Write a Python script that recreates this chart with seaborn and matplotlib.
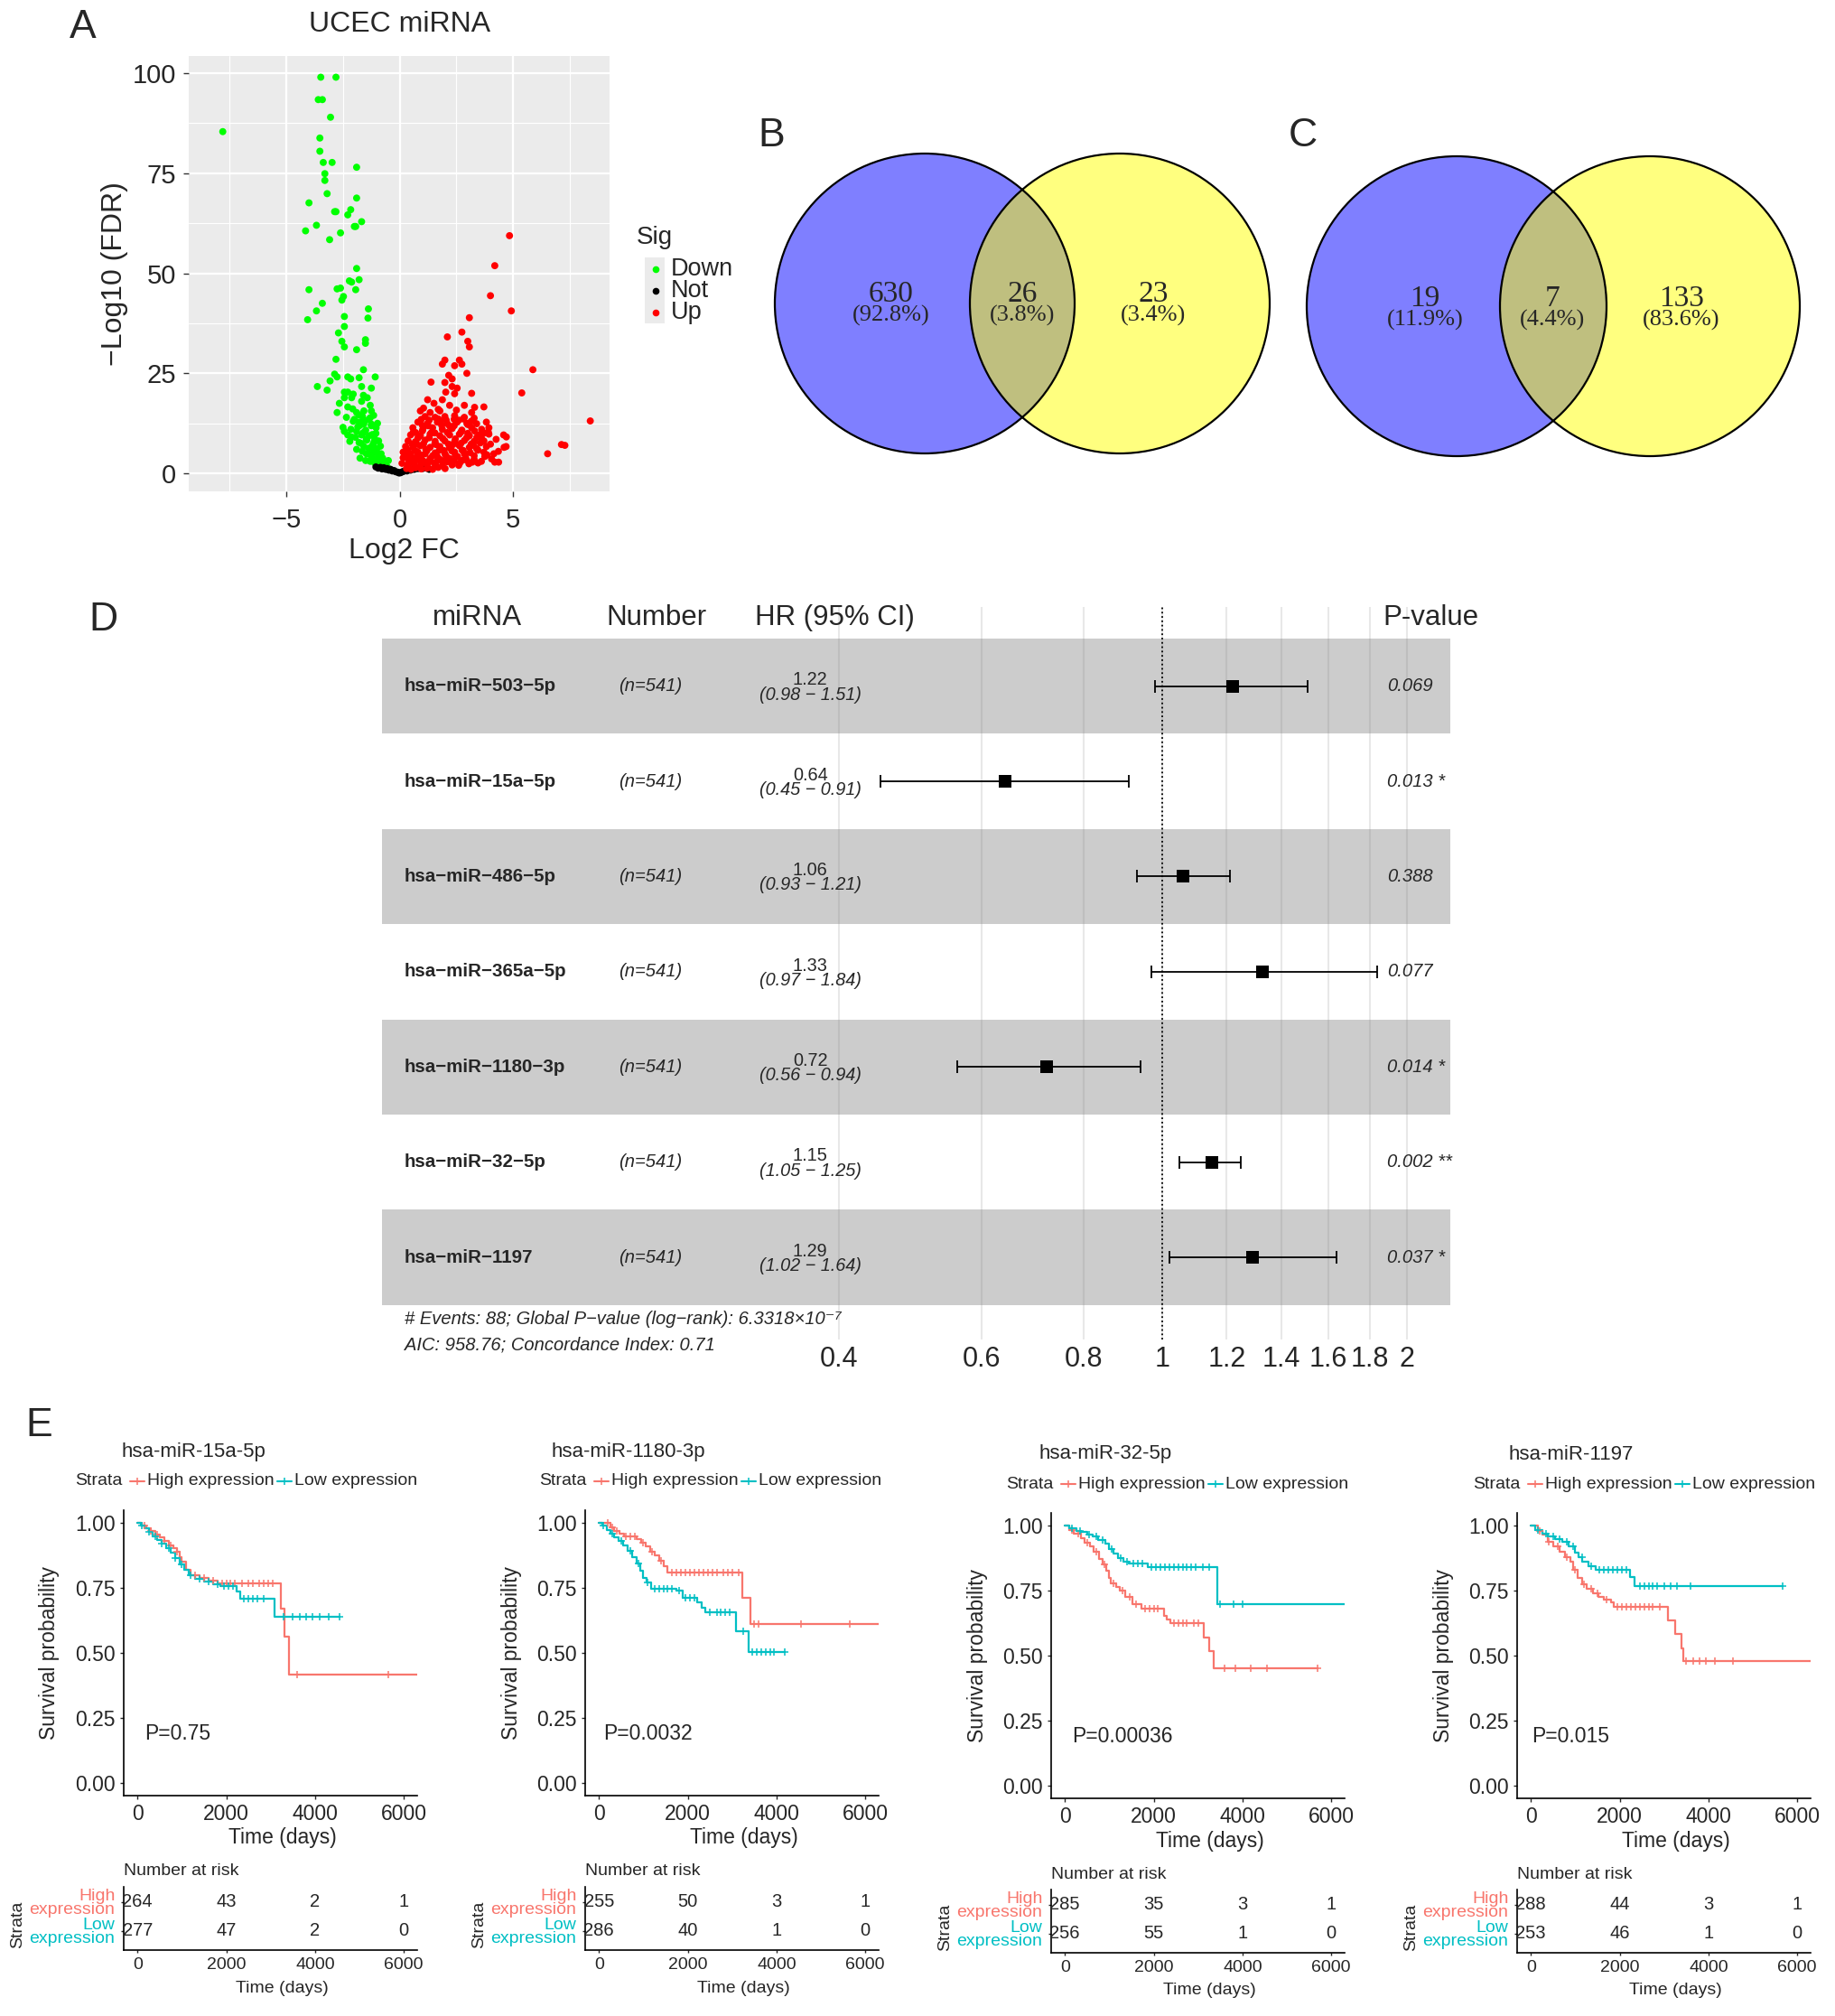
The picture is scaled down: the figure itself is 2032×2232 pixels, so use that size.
import numpy as np
import pandas as pd
import seaborn as sns
import matplotlib.pyplot as plt
from matplotlib.patches import Circle, Rectangle
from matplotlib.lines import Line2D

sns.set_style('white')
plt.rcParams['font.family'] = ['Liberation Sans', 'DejaVu Sans']

W, H, DPI = 2032, 2232, 100

# ---------------- Panel A: volcano data (log2 FC, -log10 FDR) ----------------
down_fc = [-7.8, -3.48, -2.81, -3.59, -3.41, -3.05, -3.52, -3.52, -3.37, -2.98,
           -1.90, -3.30, -3.30, -3.20, -1.90, -4.00, -2.87, -2.81, -2.16, -2.29,
           -1.68, -3.67, -2.00, -1.94, -4.15, -2.61, -3.09, -1.90, -1.79, -2.22,
           -2.12, -2.76, -2.61, -4.00, -1.94, -2.48, -2.55, -3.41, -3.67, -1.38,
           -4.06, -1.40, -2.44, -2.44, -2.70, -1.51, -1.51, -2.55, -2.44, -1.90,
           -2.81, -1.60, -2.87, -2.76, -2.29, -2.16, -1.79, -1.08, -3.07, -3.63,
           -3.20, -2.44, -2.29, -1.68, -1.25, -2.44, -2.12, -2.66, -1.68, -1.43,
           -2.29, -2.07, -1.90, -1.58, -1.25, -2.76, -1.64, -1.36, -1.79, -1.58,
           -1.25, -1.04, -2.44, -2.29, -2.12, -1.90, -1.68, -1.47, -1.21, -1.79,
           -1.58, -1.36, -1.14, -0.93, -1.47, -1.25, -1.04, -0.82, -1.14, -0.93,
           -0.71, -0.50, -0.60, -0.82,
           -2.00, -1.75, -1.50, -1.25, -2.20, -1.95, -1.70, -1.45, -1.20, -1.00,
           -1.90, -1.65, -1.40, -1.15, -0.95, -0.75, -1.30, -1.10, -0.90, -0.70, -0.55,
           -2.35, -2.05, -1.80, -1.55, -1.30, -1.05,
           -2.50, -2.15, -1.85, -1.60, -1.35, -1.10, -0.85,
           -1.75, -1.50, -1.25, -1.00, -0.80, -0.65,
           -2.05, -1.60, -1.30, -1.15, -0.98]
down_fdr = [85.4, 99.0, 99.0, 93.4, 93.4, 89.0, 83.8, 80.5, 77.7, 77.7,
            76.5, 74.9, 73.2, 69.9, 68.8, 67.6, 65.4, 65.4, 65.9, 64.6,
            62.9, 62.0, 61.7, 61.7, 60.6, 60.1, 58.4, 51.2, 48.4, 48.1,
            47.8, 46.1, 46.3, 45.9, 45.9, 44.2, 43.3, 42.5, 40.6, 41.1,
            38.4, 38.8, 39.2, 36.7, 35.1, 33.4, 32.5, 33.0, 31.6, 30.9,
            28.5, 25.9, 24.8, 24.1, 24.1, 23.6, 23.9, 24.1, 23.1, 21.7,
            20.8, 20.3, 20.3, 21.7, 21.3, 18.9, 18.9, 17.5, 18.0, 18.9,
            16.6, 16.1, 15.2, 15.6, 15.6, 15.2, 14.2, 13.5, 12.8, 12.4,
            11.9, 11.4, 10.5, 9.6, 9.1, 10.5, 9.6, 8.6, 9.7, 7.7,
            6.7, 6.3, 7.7, 8.1, 4.9, 4.4, 5.3, 4.9, 3.5, 3.0,
            2.5, 3.2, 2.1, 2.2,
            13.5, 12.0, 10.8, 12.3, 8.0, 9.0, 7.5, 8.3, 7.0, 6.2,
            6.0, 5.5, 5.0, 5.8, 4.2, 3.8, 3.0, 2.6, 2.2, 1.8, 1.6,
            14.0, 13.0, 14.6, 13.2, 13.9, 10.0,
            11.5, 11.0, 11.6, 10.2, 9.4, 8.6, 6.8,
            3.8, 3.2, 4.1, 3.4, 2.9, 2.3,
            19.8, 19.5, 17.0, 14.5, 12.5]

not_fc = [-1.05, -0.95, -0.85, -0.78, -0.70, -0.62, -0.55, -0.48, -0.40, -0.33,
          -0.25, -0.18, -0.10, -0.03, 0.03, 0.10, 0.17, 0.25, 0.32, 0.40,
          0.48, 0.56, 0.64, 0.72, 0.80, 0.90, 1.00, 1.10, 1.20, 1.30]
not_fdr = [1.6, 1.3, 1.5, 1.1, 1.4, 1.0, 1.2, 0.8, 1.0, 0.6,
           0.7, 0.4, 0.3, 0.1, 0.15, 0.35, 0.5, 0.7, 0.6, 0.9,
           0.8, 1.1, 1.0, 1.3, 1.2, 1.4, 1.2, 1.5, 1.3, 1.0]

up_fc = [4.84, 4.19, 4.00, 4.92, 3.07, 2.74, 2.10, 3.00, 3.07, 5.87,
         1.99, 2.63, 2.74, 1.88, 2.42, 2.16, 2.31, 2.96, 1.38, 1.99,
         2.31, 2.53, 5.38, 2.03, 2.42, 3.17, 1.23, 1.88, 3.71, 1.51,
         2.20, 2.85, 0.91, 1.34, 1.77, 3.17, 3.28, 8.40, 7.13, 7.28,
         6.52, 4.19, 4.36, 4.70, 4.60, 3.90,
         1.12, 1.56, 1.99, 2.42, 2.85,
         0.80, 1.23, 1.66, 2.10, 2.53, 2.96, 3.39, 3.82,
         0.58, 1.02, 1.45, 1.88, 2.31, 2.74, 3.17, 3.61, 3.93,
         0.48, 0.91, 1.34, 1.77, 2.20, 2.63, 3.07, 3.50, 3.93, 4.58,
         0.37, 0.69, 1.12, 1.56, 1.99, 2.42, 2.85, 3.28, 3.71, 4.25,
         0.26, 0.58, 0.91, 1.34, 1.77, 2.20, 2.63, 3.07, 3.39, 3.82, 4.69,
         0.15, 0.48, 0.80, 1.12, 1.56, 1.99, 2.42, 2.85, 3.28, 3.71, 4.15,
         0.15, 0.43, 0.69, 1.02, 1.34, 1.77, 2.20, 2.74, 3.28,
         0.10, 0.37, 0.65, 0.91, 1.23, 1.56, 1.88, 2.31,
         0.60, 1.00, 1.40, 1.80, 2.20, 2.60, 3.00, 3.40,
         0.35, 0.75, 1.15, 1.55, 1.95, 2.35, 2.75, 3.15, 3.55,
         0.25, 0.55, 0.85, 1.25, 1.65, 2.05, 2.45, 2.90, 3.60,
         1.05, 1.70, 2.50, 3.30,
         0.30, 0.50, 0.70, 0.95, 1.20, 1.45, 1.70, 2.00, 2.60, 3.05,
         0.40, 0.62, 0.85, 1.10, 1.35, 1.60, 1.85, 2.10, 2.40, 2.65, 2.95, 3.20, 3.45, 3.75, 4.05,
         0.45, 0.70, 0.95, 1.20, 1.45, 1.75, 2.05, 2.30, 2.55, 2.80, 3.10, 3.45, 3.85, 4.35,
         0.55, 0.80, 1.05, 1.30, 1.60, 1.90, 2.15, 2.45, 2.70, 2.95, 3.25, 3.60, 4.00,
         0.70, 1.00, 1.25, 1.55, 1.85, 2.10, 2.40, 2.70, 3.00, 3.30, 3.70,
         0.95, 1.30, 1.70, 2.05, 2.40, 2.80, 3.15]
up_fdr = [59.4, 51.9, 44.4, 40.6, 38.9, 35.3, 34.1, 33.0, 31.6, 25.9,
          28.3, 28.3, 27.3, 27.3, 26.9, 24.5, 23.6, 25.0, 22.8, 22.7,
          21.7, 21.3, 20.1, 20.3, 19.9, 20.0, 18.4, 18.4, 16.6, 17.5,
          17.0, 17.0, 15.6, 15.2, 15.6, 15.2, 13.8, 13.1, 7.2, 7.0,
          4.9, 2.8, 2.8, 9.1, 6.5, 10.4,
          14.2, 14.0, 14.2, 14.4, 14.0,
          12.8, 12.5, 12.8, 12.4, 12.8, 12.5, 12.4, 12.8,
          11.4, 11.0, 11.4, 11.0, 11.2, 10.8, 11.4, 11.0, 11.4,
          9.6, 9.4, 9.8, 9.4, 9.6, 9.8, 9.4, 9.6, 9.8, 9.6,
          8.1, 7.9, 8.3, 8.0, 8.1, 7.9, 8.2, 8.0, 8.1, 8.5,
          6.7, 6.5, 6.9, 6.5, 6.7, 6.4, 6.9, 6.5, 6.2, 6.7, 6.7,
          5.3, 4.9, 5.3, 4.9, 5.1, 4.9, 5.3, 4.9, 4.4, 5.3, 4.9,
          3.9, 3.5, 3.9, 3.2, 3.7, 3.5, 3.7, 3.2, 3.5,
          2.5, 2.1, 2.2, 1.9, 2.1, 2.2, 1.9, 2.1,
          10.3, 12.0, 10.2, 13.0, 11.8, 13.3, 10.0, 9.0,
          5.8, 7.3, 6.0, 7.4, 5.7, 7.2, 5.8, 7.3, 7.6,
          4.2, 3.0, 4.4, 2.9, 4.3, 3.0, 4.5, 4.0, 3.0,
          16.3, 16.0, 15.8, 16.5,
          1.2, 1.0, 1.4, 1.1, 1.3, 1.0, 1.5, 1.2, 2.0, 2.4,
          3.1, 2.8, 3.3, 2.7, 3.0, 2.8, 3.2, 2.9, 3.1, 2.6, 3.3, 2.8, 2.6, 4.2, 3.6,
          4.6, 5.6, 4.5, 5.7, 4.4, 5.8, 4.3, 5.6, 4.2, 5.7, 5.2, 5.8, 4.6, 5.5,
          7.3, 8.8, 7.4, 8.9, 7.2, 8.7, 7.3, 8.6, 7.5, 8.9, 7.0, 8.8, 7.3,
          10.2, 10.6, 11.9, 10.1, 12.0, 10.2, 11.9, 10.3, 12.2, 10.6, 10.0,
          13.5, 13.3, 13.6, 13.3, 13.5, 13.6, 13.0]

sig_order = ['Down', 'Not', 'Up']
sig_colors = {'Down': '#00FF00', 'Not': '#000000', 'Up': '#FF0000'}

# ---------------- Panels B, C: Venn counts ----------------
venn_b_counts = [630, 26, 23]
venn_c_counts = [19, 7, 133]

# ---------------- Panel D: Cox forest data ----------------
mirnas = ['hsa-miR-503-5p', 'hsa-miR-15a-5p', 'hsa-miR-486-5p', 'hsa-miR-365a-5p',
          'hsa-miR-1180-3p', 'hsa-miR-32-5p', 'hsa-miR-1197']
hr = [1.22, 0.64, 1.06, 1.33, 0.72, 1.15, 1.29]
hr_lo = [0.98, 0.45, 0.93, 0.97, 0.56, 1.05, 1.02]
hr_hi = [1.51, 0.91, 1.21, 1.84, 0.94, 1.25, 1.64]
pvals = [0.069, 0.013, 0.388, 0.077, 0.014, 0.002, 0.037]
n_patients = 541
n_events = 88
global_p = '6.3318×10⁻⁷'
aic = 958.76
c_index = 0.71
hr_ticks = [0.4, 0.6, 0.8, 1, 1.2, 1.4, 1.6, 1.8, 2]

# ---------------- Panel E: Kaplan-Meier data ----------------
km_titles = ['hsa-miR-15a-5p', 'hsa-miR-1180-3p', 'hsa-miR-32-5p', 'hsa-miR-1197']
km_pvals = ['P=0.75', 'P=0.0032', 'P=0.00036', 'P=0.015']

high_t = [
    [0, 100, 200, 300, 400, 500, 600, 700, 800, 900, 950, 1000, 1100, 1200, 1400, 1600, 1800, 3220, 3320, 3410],
    [0, 260, 350, 460, 560, 850, 950, 1050, 1150, 1250, 1350, 1450, 1540, 3230, 3420],
    [0, 100, 200, 355, 450, 560, 650, 765, 850, 935, 1000, 1038, 1150, 1242, 1350, 1515, 1720, 2232, 2300, 2369, 3120, 3256, 3358],
    [0, 150, 250, 373, 500, 644, 760, 881, 960, 1051, 1150, 1254, 1400, 1525, 1650, 1796, 1864, 3085, 3254, 3390, 3424],
]
high_s = [
    [1, 0.99, 0.98, 0.97, 0.955, 0.945, 0.93, 0.915, 0.905, 0.89, 0.87, 0.85, 0.82, 0.80, 0.79, 0.78, 0.767, 0.672, 0.563, 0.418],
    [1, 0.985, 0.97, 0.96, 0.95, 0.94, 0.925, 0.91, 0.89, 0.875, 0.855, 0.835, 0.811, 0.713, 0.611],
    [1, 0.985, 0.97, 0.953, 0.935, 0.92, 0.90, 0.873, 0.85, 0.827, 0.80, 0.78, 0.765, 0.751, 0.725, 0.70, 0.682, 0.652, 0.64, 0.627, 0.569, 0.519, 0.452],
    [1, 0.98, 0.965, 0.94, 0.92, 0.90, 0.88, 0.862, 0.83, 0.80, 0.775, 0.757, 0.74, 0.728, 0.715, 0.705, 0.688, 0.635, 0.583, 0.527, 0.478],
]
high_end = [6300, 6300, 5680, 6300]
high_cens = [
    [150, 300, 450, 600, 750, 900, 1300, 1500, 1700, 1900, 2000, 2100, 2200, 2350, 2500, 2600, 2750, 2850, 2950, 3050, 3590, 5640],
    [200, 300, 400, 600, 700, 800, 1000, 1200, 1400, 1650, 1750, 1850, 1950, 2050, 2150, 2250, 2350, 2450, 2550, 2650, 2800, 2900, 3000, 3150, 3500, 3600, 4550, 5650],
    [150, 300, 500, 700, 900, 1100, 1300, 1450, 1600, 1800, 1900, 2000, 2100, 2450, 2550, 2650, 2750, 2900, 3000, 3597, 3836, 4177, 4553, 5680],
    [200, 400, 600, 800, 1000, 1200, 1350, 1500, 1700, 1950, 2050, 2150, 2250, 2350, 2450, 2550, 2650, 2750, 2900, 3500, 3650, 3800, 3950, 4150, 4550],
]

low_t = [
    [0, 80, 160, 250, 350, 450, 550, 650, 750, 850, 950, 1050, 1150, 1300, 1500, 1700, 1870, 2236, 2304, 3083],
    [0, 80, 170, 260, 350, 450, 550, 650, 750, 850, 930, 1000, 1070, 1170, 1750, 1880, 2220, 2320, 2390, 3095, 3365],
    [0, 100, 250, 355, 500, 628, 750, 901, 1000, 1100, 1200, 1311, 1447, 1857, 3427],
    [0, 100, 250, 373, 550, 712, 850, 983, 1080, 1152, 1300, 1458, 2237, 2339],
]
low_s = [
    [1, 0.99, 0.98, 0.965, 0.95, 0.935, 0.92, 0.905, 0.885, 0.865, 0.84, 0.82, 0.80, 0.785, 0.775, 0.765, 0.757, 0.738, 0.71, 0.638],
    [1, 0.99, 0.975, 0.96, 0.945, 0.93, 0.915, 0.895, 0.87, 0.845, 0.817, 0.79, 0.771, 0.748, 0.74, 0.713, 0.695, 0.675, 0.655, 0.582, 0.502],
    [1, 0.99, 0.98, 0.976, 0.968, 0.96, 0.945, 0.93, 0.91, 0.895, 0.875, 0.862, 0.856, 0.841, 0.70],
    [1, 0.985, 0.97, 0.96, 0.95, 0.937, 0.92, 0.897, 0.88, 0.862, 0.845, 0.83, 0.804, 0.769],
]
low_end = [4560, 4180, 6300, 5661]
low_cens = [
    [100, 250, 400, 550, 700, 850, 1000, 1200, 1400, 1600, 1800, 1950, 2050, 2150, 2400, 2500, 2600, 2700, 2850, 3300, 3500, 3650, 3800, 3950, 4100, 4300, 4560],
    [100, 300, 500, 700, 900, 1100, 1250, 1350, 1450, 1550, 1650, 1800, 1950, 2050, 2150, 2500, 2650, 2750, 2850, 2950, 3250, 3450, 3550, 3650, 3750, 3850, 3950, 4180],
    [150, 350, 550, 700, 850, 1050, 1250, 1400, 1550, 1650, 1750, 1950, 2050, 2150, 2250, 2350, 2450, 2550, 2650, 2750, 2850, 2950, 3100, 3250, 3500, 3800, 4000],
    [150, 350, 500, 650, 800, 950, 1150, 1350, 1550, 1650, 1750, 1850, 1950, 2050, 2150, 2450, 2550, 2650, 2750, 2850, 3000, 3150, 3300, 3600, 5661],
]

risk_times = [0, 2000, 4000, 6000]
risk_high = [[264, 43, 2, 1], [255, 50, 3, 1], [285, 35, 3, 1], [288, 44, 3, 1]]
risk_low = [[277, 47, 2, 0], [286, 40, 1, 0], [256, 55, 1, 0], [253, 46, 1, 0]]

RED, TEAL = '#F8766D', '#00BFC4'


def px_axes(x0, y0, x1, y1):
    return fig.add_axes([x0 / W, 1 - y1 / H, (x1 - x0) / W, (y1 - y0) / H])


def step_xy(t, s, t_end):
    return list(t) + [t_end], list(s) + [s[-1]]


def surv_at(t, s, times):
    idx = np.searchsorted(np.asarray(t), np.asarray(times), side='right') - 1
    return np.asarray(s)[idx]


fig = plt.figure(figsize=(W / DPI, H / DPI), dpi=DPI)
ov = fig.add_axes([0, 0, 1, 1])
ov.set_xlim(0, W)
ov.set_ylim(H, 0)
ov.axis('off')

# panel letters
for lab, (lx, ly) in {'A': (92, 31), 'B': (854, 150), 'C': (1443, 150),
                      'D': (114, 687), 'E': (43, 1578)}.items():
    ov.text(lx, ly, lab, fontsize=32, ha='center', va='center')

# ---------------- A: volcano ----------------
vdf = pd.DataFrame({
    'fc': down_fc + not_fc + up_fc,
    'fdr': down_fdr + not_fdr + up_fdr,
    'sig': ['Down'] * len(down_fc) + ['Not'] * len(not_fc) + ['Up'] * len(up_fc),
})
ax = px_axes(209, 62, 675, 544)
ax.set_facecolor('#EBEBEB')
sns.scatterplot(data=vdf, x='fc', y='fdr', hue='sig', hue_order=sig_order,
                palette=sig_colors, s=32, linewidth=0, legend=False, ax=ax, zorder=3)
ax.set_xlim(-9.3, 9.25)
ax.set_ylim(-4.5, 104.3)
ax.set_xticks([-5, 0, 5])
ax.set_yticks([0, 25, 50, 75, 100])
ax.set_xticks([-7.5, -2.5, 2.5, 7.5], minor=True)
ax.set_yticks([12.5, 37.5, 62.5, 87.5], minor=True)
ax.set_axisbelow(True)
ax.grid(which='major', color='white', lw=1.6)
ax.grid(which='minor', color='white', lw=0.8)
for sp in ax.spines.values():
    sp.set_visible(False)
ax.tick_params(which='major', bottom=True, left=True, length=4, width=1,
               color='#333333', labelsize=21)
ax.tick_params(axis='x', pad=9)
ax.tick_params(axis='y', pad=6)
ax.tick_params(which='minor', length=0)
ax.set_xlabel('')
ax.set_ylabel('')
ov.text(443, 27, 'UCEC miRNA', fontsize=23, ha='center', va='center')
ov.text(447, 610, 'Log2 FC', fontsize=23, ha='center', va='center')
ov.text(127, 303, '−Log10 (FDR)', fontsize=23, ha='center', va='center', rotation=90)
# legend
ov.text(705, 263, 'Sig', fontsize=20, ha='left', va='center')
ov.add_patch(Rectangle((714, 285), 22, 73, color='#EBEBEB', lw=0))
for ky, lab in zip([298, 322, 346], sig_order):
    ov.scatter([726], [ky], s=30, color=sig_colors[lab], linewidth=0, zorder=3)
    ov.text(743, ky, lab, fontsize=19.5, ha='left', va='center')

# ---------------- B, C: Venn diagrams ----------------
def draw_venn(cx1, cx2, cy, r, counts, text_x, ty):
    total = sum(counts)
    ov.add_patch(Circle((cx1, cy), r, facecolor=(0, 0, 1, 0.5), edgecolor='none'))
    ov.add_patch(Circle((cx2, cy), r, facecolor=(1, 1, 0, 0.5), edgecolor='none'))
    for cx in (cx1, cx2):
        ov.add_patch(Circle((cx, cy), r, facecolor='none', edgecolor='black', lw=1.6))
    for c, tx in zip(counts, text_x):
        ov.text(tx, ty, str(c), fontsize=24, family='Liberation Serif',
                ha='center', va='center')
        ov.text(tx, ty + 23, f'({100 * c / total:.1f}%)', fontsize=19,
                family='Liberation Serif', ha='center', va='center')


draw_venn(1024, 1240, 336, 166, venn_b_counts, [987, 1132, 1277], 326)
draw_venn(1613, 1827, 339, 166, venn_c_counts, [1578, 1719, 1862], 331)

# ---------------- D: forest plot ----------------
rows = np.arange(len(mirnas))
axf = px_axes(423, 672, 1606, 1483)
axf.set_xlim(-2.21, 0.816)
axf.set_ylim(6.863, -0.832)
for i in rows[::2]:
    axf.axhspan(i - 0.5, i + 0.5, color='#CCCCCC', lw=0, zorder=0.5)
axf.set_xticks(np.log(hr_ticks))
axf.set_xticklabels([f'{v:g}' for v in hr_ticks])
axf.set_axisbelow('line')
axf.grid(axis='x', color='#808080', alpha=0.18, lw=1.5)
axf.set_yticks([])
for sp in axf.spines.values():
    sp.set_visible(False)
axf.tick_params(axis='x', bottom=False, length=0, labelsize=22, pad=5)
axf.axvline(0, ls=':', color='black', lw=1.3, zorder=2)
lhr, llo, lhi = np.log(hr), np.log(hr_lo), np.log(hr_hi)
axf.errorbar(lhr, rows, xerr=[lhr - llo, lhi - lhr], fmt='none', ecolor='black',
             elinewidth=1.3, capsize=5, capthick=1.3, zorder=3)
sns.scatterplot(x=lhr, y=rows, marker='s', s=90, color='black', linewidth=0,
                ax=axf, zorder=4)
axf.set_xlabel('')
axf.set_ylabel('')
for hx, lab in zip([-1.939, -1.432, -0.928, 0.762], ['miRNA', 'Number', 'HR (95% CI)', 'P-value']):
    axf.text(hx, -0.718, lab, fontsize=22.5, ha='center', va='center')
for i in rows:
    axf.text(-2.146, i, mirnas[i].replace('-', '−'), fontsize=14.8, fontweight='bold',
             ha='left', va='center')
    axf.text(-1.45, i, f'(n={n_patients})', fontsize=14.5, style='italic',
             ha='center', va='center')
    axf.text(-0.997, i - 0.065, f'{hr[i]:.2f}', fontsize=14.3, ha='center', va='center')
    axf.text(-0.997, i + 0.09, f'({hr_lo[i]:.2f} − {hr_hi[i]:.2f})', fontsize=14.3,
             style='italic', ha='center', va='center')
    stars = '**' if pvals[i] < 0.01 else ('*' if pvals[i] < 0.05 else '')
    axf.text(0.637, i, f'{pvals[i]:.3f} {stars}'.strip(), fontsize=14.5, style='italic',
             ha='left', va='center')
axf.text(-2.146, 6.654, f'# Events: {n_events}; Global P−value (log−rank): {global_p}',
         fontsize=14.5, style='italic', ha='left', va='center', clip_on=False)
axf.text(-2.146, 6.919, f'AIC: {aic}; Concordance Index: {c_index}',
         fontsize=14.5, style='italic', ha='left', va='center', clip_on=False)

# ---------------- E: Kaplan-Meier curves ----------------
km_left = [137, 648, 1164, 1680]
km_top = [1672, 1672, 1675, 1675]
title_x = [134, 611, 1151, 1671]
strata_x = [83, 597, 1114, 1631]
pval_x = [160, 100, 160, 20]
AW, AH = 325, 316

for k in range(4):
    x0, y0 = km_left[k], km_top[k]
    ax = px_axes(x0, y0, x0 + AW, y0 + AH)
    curves = [(high_t[k], high_s[k], high_end[k], high_cens[k], RED),
              (low_t[k], low_s[k], low_end[k], low_cens[k], TEAL)]
    for t, s, tend, cens, col in curves:
        xs, ys = step_xy(t, s, tend)
        sns.lineplot(x=xs, y=ys, drawstyle='steps-post', color=col, lw=1.6,
                     ax=ax, estimator=None, sort=False)
        sns.scatterplot(x=cens, y=surv_at(t, s, cens), marker='+', s=40, color=col,
                        linewidth=1.1, ax=ax, zorder=3)
    ax.set_xlim(-310, 6300)
    ax.set_ylim(-0.05, 1.05)
    ax.set_xticks(risk_times)
    ax.set_yticks([0, 0.25, 0.5, 0.75, 1.0])
    ax.set_yticklabels(['0.00', '0.25', '0.50', '0.75', '1.00'])
    for side in ('top', 'right'):
        ax.spines[side].set_visible(False)
    for side in ('left', 'bottom'):
        ax.spines[side].set_color('black')
        ax.spines[side].set_linewidth(1.2)
    ax.tick_params(bottom=True, left=True, length=3, width=1, labelsize=16.5, pad=3.6)
    ax.set_xlabel('')
    ax.set_ylabel('')
    ax.text(pval_x[k], 0.19, km_pvals[k], fontsize=16.5, ha='left', va='center')
    ax.text(-82 / AW, 0.5, 'Survival probability', fontsize=16.5, rotation=90,
            ha='center', va='center', transform=ax.transAxes)
    ax.text(0.5 + 13 / AW, -47 / AH, 'Time (days)', fontsize=16.5, ha='center',
            va='center', transform=ax.transAxes)

    # title and strata legend
    ov.text(title_x[k], y0 - 65, km_titles[k], fontsize=16, ha='left', va='center')
    ly = y0 - 32
    sx = strata_x[k]
    ov.text(sx, ly, 'Strata', fontsize=14, ha='left', va='center')
    for off, col, lab in [(61, RED, 'High expression'), (224, TEAL, 'Low expression')]:
        ov.add_line(Line2D([sx + off, sx + off + 16], [ly, ly], color=col, lw=1.5))
        ov.plot([sx + off + 8], [ly], marker='+', ms=6, mew=1.1, color=col)
        ov.text(sx + off + 19, ly, lab, fontsize=14, ha='left', va='center')

    # number at risk table
    tb = px_axes(x0, y0 + 417, x0 + AW, y0 + 487)
    tb.set_xlim(-310, 6300)
    tb.set_ylim(-0.66, 1.53)
    for j, tt in enumerate(risk_times):
        tb.text(tt, 1, str(risk_high[k][j]), fontsize=14.5, ha='center', va='center')
        tb.text(tt, 0, str(risk_low[k][j]), fontsize=14.5, ha='center', va='center')
    tb.set_xticks(risk_times)
    tb.set_yticks([1, 0])
    tb.set_yticklabels(['High\nexpression', 'Low\nexpression'])
    for lbl, col in zip(tb.get_yticklabels(), [RED, TEAL]):
        lbl.set_color(col)
        lbl.set_linespacing(0.85)
    for side in ('top', 'right'):
        tb.spines[side].set_visible(False)
    for side in ('left', 'bottom'):
        tb.spines[side].set_color('black')
        tb.spines[side].set_linewidth(1.2)
    tb.tick_params(bottom=True, left=True, length=2, width=1, labelsize=14)
    tb.tick_params(axis='x', pad=3.6)
    tb.tick_params(axis='y', pad=5)
    tb.text(0, 1 + 17 / 70, 'Number at risk', fontsize=14, ha='left', va='center',
            transform=tb.transAxes)
    tb.text(0.5 + 13 / AW, -42 / 70, 'Time (days)', fontsize=14, ha='center',
            va='center', transform=tb.transAxes)
    tb.text(-117 / AW, 0.4, 'Strata', fontsize=14, rotation=90, ha='center',
            va='center', transform=tb.transAxes)

fig.savefig('out.png', dpi=DPI)
